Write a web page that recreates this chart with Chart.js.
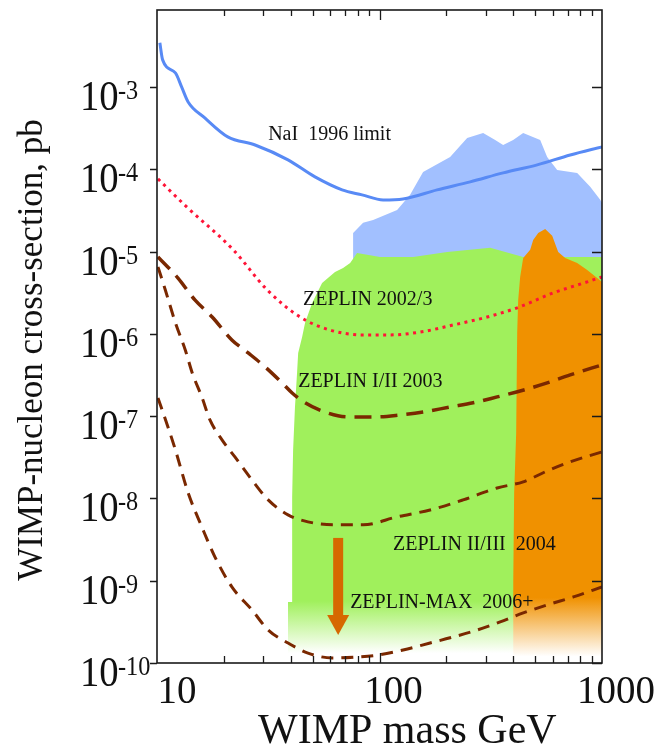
<!DOCTYPE html>
<html>
<head>
<meta charset="utf-8">
<script src="https://cdn.jsdelivr.net/npm/chart.js@4.4.1/dist/chart.umd.min.js"></script>
<style>
  html, body { margin: 0; padding: 0; background: #fff; }
  #wrap { width: 661px; height: 749px; }
</style>
</head>
<body>
<div id="wrap"><canvas id="chart" width="661" height="749"></canvas></div>
<script>
"use strict";

// NaI 1996 limit (blue line)
const naiMass  = [10.3, 10.6, 12.1, 12.9, 13.8, 16.4, 20.8, 27.6, 38.8, 51.3, 67.9, 83.5, 103.8, 127.6, 181.4, 255.5, 359.5, 511.4, 719.7, 1000];
const naiSigma = [3.43e-3, 2.13e-3, 1.48e-3, 1.0e-3, 6.57e-4, 4.2e-4, 2.47e-4, 1.97e-4, 1.30e-4, 8.06e-5, 5.61e-5, 4.88e-5, 4.23e-5, 4.35e-5, 5.61e-5, 7.02e-5, 9.02e-5, 1.13e-4, 1.49e-4, 1.87e-4];

// ZEPLIN 2002/3 (red dotted)
const z02Mass  = [10.1, 13.6, 22.0, 31.3, 44.0, 60.0, 83.5, 111.6, 152.3, 214.4, 304.8, 415.9, 603.6, 857.8, 1000];
const z02Sigma = [7.62e-5, 3.48e-5, 1.05e-5, 3.41e-6, 1.60e-6, 1.11e-6, 9.70e-7, 9.70e-7, 1.05e-6, 1.28e-6, 1.60e-6, 2.07e-6, 3.14e-6, 4.27e-6, 4.91e-6];

// ZEPLIN I/II 2003
const z03Mass  = [10.1, 12.4, 14.8, 17.7, 21.7, 25.7, 30.6, 36.5, 40.5, 46.3, 56.9, 72.3, 97.5, 123.8, 157.0, 207.7, 263.6, 337.9, 428.7, 567.0, 719.5, 1000];
const z03Sigma = [8.60e-6, 4.78e-6, 2.58e-6, 1.60e-6, 8.43e-7, 5.86e-7, 3.96e-7, 2.53e-7, 1.91e-7, 1.45e-7, 1.12e-7, 9.77e-8, 9.77e-8, 1.03e-7, 1.12e-7, 1.29e-7, 1.45e-7, 1.71e-7, 2.02e-7, 2.53e-7, 3.17e-7, 4.19e-7];

// ZEPLIN II/III 2004
const z04Mass  = [10.1, 10.9, 12.1, 13.4, 14.4, 15.9, 17.3, 19.6, 22.4, 26.7, 31.6, 38.8, 47.7, 63.1, 84.4, 119.9, 168.8, 237.5, 337.9, 442.6, 567.6, 719.5, 1000];
const z04Sigma = [6.50e-6, 3.41e-6, 1.36e-6, 6.37e-7, 3.35e-7, 1.71e-7, 8.99e-8, 5.14e-8, 3.19e-8, 1.68e-8, 9.59e-9, 6.30e-9, 5.19e-9, 4.77e-9, 4.77e-9, 5.96e-9, 7.24e-9, 9.59e-9, 1.34e-8, 1.59e-8, 2.16e-8, 2.78e-8, 3.67e-8];

// ZEPLIN-MAX 2006+
const zmaxMass  = [10.1, 11.2, 12.1, 13.8, 15.9, 18.2, 21.7, 26.7, 31.6, 38.8, 47.7, 61.2, 77.7, 98.6, 127.7, 168.8, 214.4, 274.8, 348.6, 442.6, 567.6, 743.6, 1000];
const zmaxSigma = [1.66e-7, 7.39e-8, 3.88e-8, 1.17e-8, 4.51e-9, 1.95e-9, 8.41e-10, 4.42e-10, 2.52e-10, 1.75e-10, 1.32e-10, 1.15e-10, 1.18e-10, 1.25e-10, 1.44e-10, 1.75e-10, 2.07e-10, 2.52e-10, 3.16e-10, 4.06e-10, 5.08e-10, 6.35e-10, 8.41e-10];

// shaded regions
const blueMass  = [76.1, 84.4, 93.6, 120.0, 137.3, 157.0, 207.7, 247.7, 292.3, 331.1, 359.5, 398.7, 442.3, 527.5, 567.0, 628.9, 773.5, 885.1, 981.5, 1000];
const blueSigma = [1.68e-5, 2.23e-5, 2.42e-5, 3.20e-5, 4.88e-5, 9.27e-5, 1.41e-4, 2.40e-4, 2.76e-4, 2.27e-4, 1.97e-4, 2.27e-4, 2.76e-4, 2.27e-4, 1.41e-4, 9.80e-5, 9.02e-5, 6.10e-5, 4.24e-5, 3.90e-5];
const blueBase  = 2.6e-6;

const greenMass  = [38.8, 38.8, 40.5, 40.5, 40.9, 41.7, 42.6, 43.1, 44.9, 46.3, 49.8, 55.2, 63.1, 68.6, 73.8, 79.3, 100.6, 141.6, 201.4, 314.4, 442.6, 648.9, 1000];
const greenSigma = [1e-10, 5.52e-10, 5.52e-10, 1.04e-8, 3.88e-8, 1.29e-7, 3.35e-7, 5.86e-7, 9.17e-7, 1.36e-6, 2.37e-6, 4.15e-6, 5.65e-6, 6.32e-6, 7.26e-6, 9.61e-6, 8.60e-6, 8.60e-6, 9.88e-6, 1.11e-5, 8.60e-6, 8.60e-6, 8.60e-6];

const orangeMass  = [398.7, 398.7, 402.9, 411.4, 415.7, 420.1, 428.7, 442.3, 475.6, 490.6, 516.7, 555.4, 597.3, 635.6, 683.1, 773.5, 858.0, 951.5, 1000];
const orangeSigma = [1e-10, 1.02e-9, 1.17e-8, 6.25e-8, 1.03e-6, 2.58e-6, 4.91e-6, 8.36e-6, 1.05e-5, 1.38e-5, 1.68e-5, 1.88e-5, 1.55e-5, 9.88e-6, 8.36e-6, 7.26e-6, 5.97e-6, 4.77e-6, 4.27e-6];

// arrow (mass, top, head base, tip)
const arrowMass = 65.2;
const arrowSigma = [3.31e-9, 3.84e-10, 2.19e-10];

// curve labels: text, mass (left edge), sigma (middle)
const labelTexts = ["NaI  1996 limit", "ZEPLIN 2002/3", "ZEPLIN I/II 2003", "ZEPLIN II/III  2004", "ZEPLIN-MAX  2006+"];
const labelMass  = [31.6, 45.3, 43.1, 115, 73.8];
const labelSigma = [2.61e-4, 2.58e-6, 2.61e-7, 2.72e-9, 5.37e-10];

// axes
const xMin = 10, xMax = 1000;
const yMin = 1e-10, yMax = 8.6e-3;
const xMajorTicks = [100];
const xMinorTicks = [20, 30, 40, 50, 60, 70, 80, 90, 200, 300, 400, 500, 600, 700, 800, 900];
const xLabelValues = [10, 100, 1000];
const xLabels = ["10", "100", "1000"];
const yTickValues = [1e-3, 1e-4, 1e-5, 1e-6, 1e-7, 1e-8, 1e-9, 1e-10];
const yTickExps = ["-3", "-4", "-5", "-6", "-7", "-8", "-9", "-10"];
const xTitle = "WIMP mass GeV";
const yTitle = "WIMP-nucleon cross-section, pb";

const SERIF = "'Liberation Serif', 'Times New Roman', serif";
const GREEN = "rgb(160, 240, 92)";
const ORANGE = "rgb(240, 145, 0)";
const BROWN = "rgb(122, 40, 0)";

function points(xs, ys) {
    return xs.map((x, i) => ({x: x, y: ys[i]}));
}

function fadeFill(color, solidStop, whiteStop) {
    return function(context) {
        const chart = context.chart;
        const area = chart.chartArea;
        if (!area) return color;
        const g = chart.ctx.createLinearGradient(0, area.top, 0, area.bottom);
        g.addColorStop(0, color);
        g.addColorStop(solidStop, color);
        g.addColorStop(whiteStop, "rgba(255,255,255,1)");
        g.addColorStop(1, "rgba(255,255,255,1)");
        return g;
    };
}

function drawText(ctx, str, x, y, size, sx, align) {
    ctx.save();
    ctx.translate(x, y);
    ctx.scale(sx, 1);
    ctx.font = size + "px " + SERIF;
    ctx.textAlign = align;
    ctx.fillText(str, 0, 0);
    ctx.restore();
}

const decorations = {
    id: "decorations",
    afterDatasetsDraw(chart) {
        const ctx = chart.ctx;
        const xs = chart.scales.x, ys = chart.scales.y;

        // arrow
        const ax = xs.getPixelForValue(arrowMass);
        const aTop = ys.getPixelForValue(arrowSigma[0]);
        const aBase = ys.getPixelForValue(arrowSigma[1]);
        const aTip = ys.getPixelForValue(arrowSigma[2]);
        ctx.save();
        ctx.fillStyle = "rgb(214, 104, 0)";
        ctx.fillRect(ax - 5, aTop, 10, aBase - aTop + 1);
        ctx.beginPath();
        ctx.moveTo(ax - 11, aBase);
        ctx.lineTo(ax + 11, aBase);
        ctx.lineTo(ax, aTip);
        ctx.closePath();
        ctx.fill();
        ctx.restore();

        // curve labels
        ctx.save();
        ctx.fillStyle = "#111";
        ctx.textBaseline = "middle";
        labelTexts.forEach((t, i) => {
            drawText(ctx, t, xs.getPixelForValue(labelMass[i]), ys.getPixelForValue(labelSigma[i]), 20, 1, "left");
        });
        ctx.restore();
    },
    afterDraw(chart) {
        const ctx = chart.ctx;
        const a = chart.chartArea;
        const xs = chart.scales.x, ys = chart.scales.y;
        ctx.save();
        ctx.strokeStyle = "#1a1a1a";
        ctx.lineWidth = 1.6;
        ctx.strokeRect(a.left, a.top, a.right - a.left, a.bottom - a.top);

        ctx.lineWidth = 1.3;
        ctx.beginPath();
        xMinorTicks.forEach(v => {
            const px = Math.round(xs.getPixelForValue(v)) + 0.5;
            ctx.moveTo(px, a.top); ctx.lineTo(px, a.top + 6);
            ctx.moveTo(px, a.bottom); ctx.lineTo(px, a.bottom - 7);
        });
        xMajorTicks.forEach(v => {
            const px = Math.round(xs.getPixelForValue(v)) + 0.5;
            ctx.moveTo(px, a.top); ctx.lineTo(px, a.top + 10);
            ctx.moveTo(px, a.bottom); ctx.lineTo(px, a.bottom - 10);
        });
        yTickValues.forEach(v => {
            const py = Math.round(ys.getPixelForValue(v)) + 0.5;
            ctx.moveTo(a.left - 7, py); ctx.lineTo(a.left, py);
            ctx.moveTo(a.right, py); ctx.lineTo(a.right - 10, py);
        });
        ctx.stroke();

        // tick labels
        ctx.fillStyle = "#111";
        ctx.textBaseline = "alphabetic";
        xLabelValues.forEach((v, i) => {
            const off = i === 0 ? 20 : 14;
            drawText(ctx, xLabels[i], xs.getPixelForValue(v) + off, 703, 41, 0.95, "center");
        });
        yTickValues.forEach((v, i) => {
            const py = ys.getPixelForValue(v);
            drawText(ctx, "10", 80, py + 23, 43, 0.9, "left");
            drawText(ctx, yTickExps[i], 118, py + 12, 27, 0.9, "left");
        });

        // axis titles
        drawText(ctx, xTitle, 258, 743, 42, 1, "left");
        ctx.save();
        ctx.translate(42, 350);
        ctx.rotate(-Math.PI / 2);
        ctx.font = "35px " + SERIF;
        ctx.textAlign = "center";
        ctx.fillText(yTitle, 0, 0);
        ctx.restore();
        ctx.restore();
    }
};

const lineBase = {
    pointRadius: 0,
    fill: false,
    cubicInterpolationMode: "monotone",
    borderCapStyle: "butt"
};

const chart = new Chart(document.getElementById("chart"), {
    type: "line",
    data: {
        datasets: [
            {
                label: "DAMA region",
                data: points(blueMass, blueSigma),
                borderColor: "rgba(0,0,0,0)",
                backgroundColor: "rgb(162, 192, 255)",
                fill: {value: blueBase},
                pointRadius: 0,
                tension: 0,
                order: 10
            },
            {
                label: "green region",
                data: points(greenMass, greenSigma),
                borderColor: "rgba(0,0,0,0)",
                backgroundColor: fadeFill(GREEN, 0.905, 0.985),
                fill: "start",
                pointRadius: 0,
                tension: 0,
                order: 9
            },
            {
                label: "orange region",
                data: points(orangeMass, orangeSigma),
                borderColor: "rgba(0,0,0,0)",
                backgroundColor: fadeFill(ORANGE, 0.9, 0.99),
                fill: "start",
                pointRadius: 0,
                tension: 0,
                order: 8
            },
            Object.assign({}, lineBase, {
                label: "NaI 1996 limit",
                data: points(naiMass, naiSigma),
                borderColor: "rgb(88, 138, 245)",
                borderWidth: 3,
                order: 5
            }),
            Object.assign({}, lineBase, {
                label: "ZEPLIN 2002/3",
                data: points(z02Mass, z02Sigma),
                borderColor: "rgb(255, 20, 55)",
                borderWidth: 3,
                borderDash: [3, 4.5],
                order: 4
            }),
            Object.assign({}, lineBase, {
                label: "ZEPLIN I/II 2003",
                data: points(z03Mass, z03Sigma),
                borderColor: BROWN,
                borderWidth: 3.5,
                borderDash: [17, 9],
                order: 3
            }),
            Object.assign({}, lineBase, {
                label: "ZEPLIN II/III 2004",
                data: points(z04Mass, z04Sigma),
                borderColor: BROWN,
                borderWidth: 3,
                borderDash: [12, 8],
                order: 2
            }),
            Object.assign({}, lineBase, {
                label: "ZEPLIN-MAX 2006+",
                data: points(zmaxMass, zmaxSigma),
                borderColor: BROWN,
                borderWidth: 3,
                borderDash: [12, 8],
                order: 1
            })
        ]
    },
    options: {
        responsive: false,
        devicePixelRatio: 1,
        animation: false,
        layout: {padding: {left: 157, right: 59, top: 10, bottom: 86}},
        scales: {
            x: {type: "logarithmic", min: xMin, max: xMax, display: false},
            y: {type: "logarithmic", min: yMin, max: yMax, display: false}
        },
        plugins: {
            legend: {display: false},
            tooltip: {enabled: false}
        }
    },
    plugins: [decorations]
});
</script>
</body>
</html>
